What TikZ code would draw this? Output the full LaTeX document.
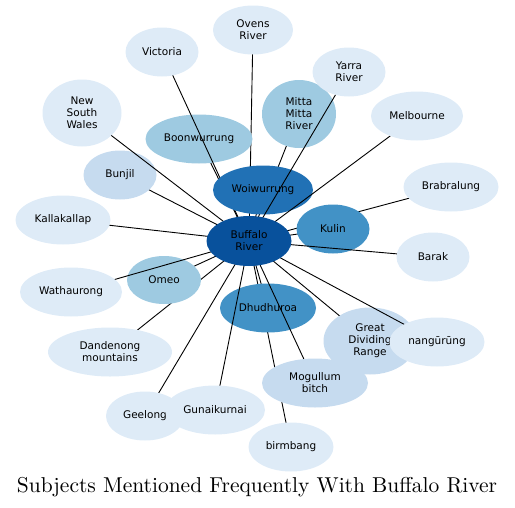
\documentclass[tikz,border=0pt]{standalone}
\usepackage{fontspec}
\newfontfamily\lblfont{DejaVu Sans}
\newfontfamily\ttlfont{lmroman10-regular}[Extension=.otf]
\usepackage{xcolor}
\usepackage{tikz}
\usetikzlibrary{shapes.geometric}
\definecolor{bl1}{HTML}{08519C}
\definecolor{bl2}{HTML}{2171B5}
\definecolor{bl3}{HTML}{4292C6}
\definecolor{bl4}{HTML}{9ECAE1}
\definecolor{bl5}{HTML}{C6DBEF}
\definecolor{bl6}{HTML}{DEEBF7}
\tikzset{
  nd/.style={ellipse,inner sep=0pt,minimum width=73pt,minimum height=49pt,align=center,
    font=\lblfont\fontsize{10.5}{12}\selectfont,text=black},
  sz/.style 2 args={minimum width=#1pt,minimum height=#2pt},
  lk/.style={line width=0.9pt,black},
  ttl/.style={anchor=base,font=\ttlfont\fontsize{21.5}{25}\selectfont}
}

\begin{document}
\begin{tikzpicture}[x=1pt,y=-1pt]
\useasboundingbox (0,0) rectangle (515,507);
% positions
\coordinate (c-buf) at (249,241); \coordinate (c-woi) at (263,190);
\coordinate (c-kul) at (333,229); \coordinate (c-dhu) at (268,308);
\coordinate (c-boo) at (199,139); \coordinate (c-mit) at (299,114);
\coordinate (c-ome) at (164,280); \coordinate (c-bun) at (120,175);
\coordinate (c-gdr) at (370,341); \coordinate (c-mog) at (315,383);
\coordinate (c-ove) at (253,30);  \coordinate (c-vic) at (162,52);
\coordinate (c-yar) at (349,72);  \coordinate (c-mel) at (417,116);
\coordinate (c-nsw) at (82,113);  \coordinate (c-kal) at (63,220);
\coordinate (c-bra) at (451,187); \coordinate (c-bar) at (433,257);
\coordinate (c-wat) at (71,292);  \coordinate (c-dan) at (110,352);
\coordinate (c-gee) at (145,416); \coordinate (c-gun) at (215,410);
\coordinate (c-nan) at (437,342); \coordinate (c-bir) at (291,447);
% each link goes under its own node
\draw[lk] (c-buf) -- (c-bir); \node[nd,fill=bl6,sz={85}{49}] (bir) at (c-bir) {birmbang};
\draw[lk] (c-buf) -- (c-dan); \node[nd,fill=bl6,sz={124}{49}] (dan) at (c-dan) {Dandenong\\mountains};
\draw[lk] (c-buf) -- (c-gee); \node[nd,fill=bl6,sz={78}{49}] (gee) at (c-gee) {Geelong};
\draw[lk] (c-buf) -- (c-bra); \node[nd,fill=bl6,sz={95}{49}] (bra) at (c-bra) {Brabralung};
\draw[lk] (c-buf) -- (c-mit); \node[nd,fill=bl4,sz={74}{68}] (mit) at (c-mit) {Mitta\\Mitta\\River};
\draw[lk] (c-buf) -- (c-ove); \node[nd,fill=bl6,sz={80}{49}] (ove) at (c-ove) {Ovens\\River};
\draw[lk] (c-buf) -- (c-boo); \node[nd,fill=bl4,sz={107}{49}] (boo) at (c-boo) {Boonwurrung};
\draw[lk] (c-buf) -- (c-vic); \node[nd,fill=bl6] (vic) at (c-vic) {Victoria};
\draw[lk] (c-buf) -- (c-gdr); \node[nd,fill=bl5,sz={93}{67}] (gdr) at (c-gdr) {Great\\Dividing\\Range};
\draw[lk] (c-buf) -- (c-kal); \node[nd,fill=bl6,sz={95}{49}] (kal) at (c-kal) {Kallakallap};
\draw[lk] (c-buf) -- (c-bun); \node[nd,fill=bl5] (bun) at (c-bun) {Bunjil};
\draw[lk] (c-buf) -- (c-nsw); \node[nd,fill=bl6,sz={79}{67}] (nsw) at (c-nsw) {New\\South\\Wales};
\draw[lk] (c-buf) -- (c-woi); \node[nd,fill=bl2,sz={100}{49}] (woi) at (c-woi) {Woiwurrung};
\draw[lk] (c-buf) -- (c-yar); \node[nd,fill=bl6] (yar) at (c-yar) {Yarra\\River};
\draw[lk] (c-buf) -- (c-mel); \node[nd,fill=bl6,sz={92}{49}] (mel) at (c-mel) {Melbourne};
\draw[lk] (c-buf) -- (c-ome); \node[nd,fill=bl4,sz={74}{48}] (ome) at (c-ome) {Omeo};
\draw[lk] (c-buf) -- (c-wat); \node[nd,fill=bl6,sz={102}{49}] (wat) at (c-wat) {Wathaurong};
\draw[lk] (c-buf) -- (c-dhu); \node[nd,fill=bl3,sz={96}{49}] (dhu) at (c-dhu) {Dhudhuroa};
\draw[lk] (c-buf) -- (c-gun); \node[nd,fill=bl6,sz={100}{49}] (gun) at (c-gun) {Gunaikurnai};
\draw[lk] (c-buf) -- (c-mog); \node[nd,fill=bl5,sz={106}{49}] (mog) at (c-mog) {Mogullum\\bitch};
\draw[lk] (c-buf) -- (c-kul); \node[nd,fill=bl3] (kul) at (c-kul) {Kulin};
\draw[lk] (c-buf) -- (c-bar); \node[nd,fill=bl6] (bar) at (c-bar) {Barak};
\draw[lk] (c-buf) -- (c-nan); \node[nd,fill=bl6,sz={95}{49}] (nan) at (c-nan) {nangūrūng};
\node[nd,fill=bl1,sz={85}{50}] (buf) at (c-buf) {Buffalo\\River};
\node[ttl] (title) at (257,492) {Subjects Mentioned Frequently With Buffalo River};
\end{tikzpicture}
\end{document}
